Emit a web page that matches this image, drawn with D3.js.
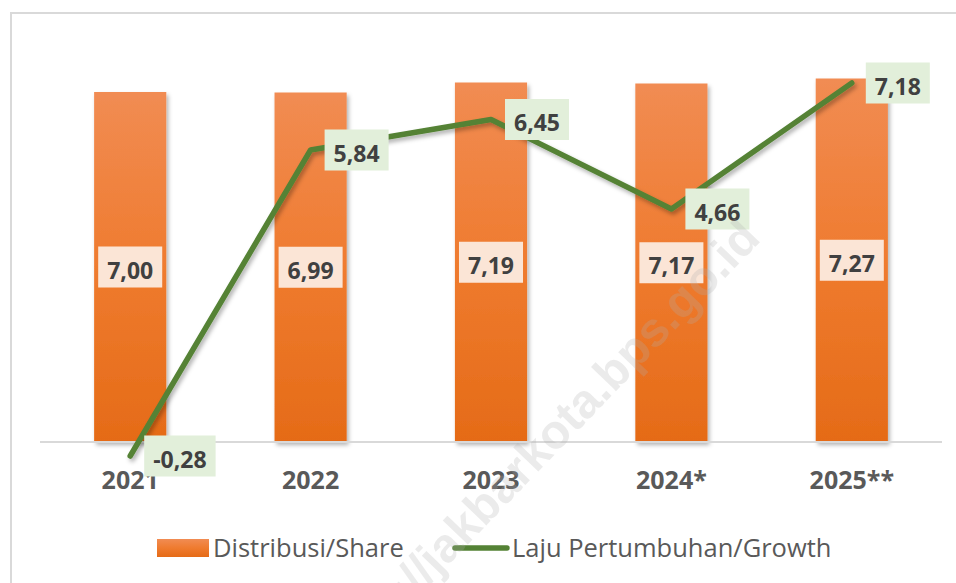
<!DOCTYPE html>
<html>
<head>
<meta charset="utf-8">
<script src="https://cdn.jsdelivr.net/npm/d3@7"></script>
<style>
  html, body { margin: 0; padding: 0; background: #fff; }
  svg { display: block; font-family: "Open Sans", "Noto Sans", sans-serif; }
</style>
</head>
<body>
<svg id="chart" width="956" height="583"></svg>
<script>
// values
const years = ["2021", "2022", "2023", "2024*", "2025**"];
const share = [7.00, 6.99, 7.19, 7.17, 7.27];
const growth = [-0.28, 5.84, 6.45, 4.66, 7.18];
const legendLabels = ["Distribusi/Share", "Laju Pertumbuhan/Growth"];
const watermark = "http://jakbarkota.bps.go.id";

const fmt = v => v.toFixed(2).replace(".", ",");

const svg = d3.select("#chart");
const defs = svg.append("defs");

// orange bar gradient
const grad = defs.append("linearGradient")
  .attr("id", "barGrad")
  .attr("x1", 0).attr("y1", 0).attr("x2", 0).attr("y2", 1);
grad.append("stop").attr("offset", "0%").attr("stop-color", "#f18c53");
grad.append("stop").attr("offset", "50%").attr("stop-color", "#ef7b2f");
grad.append("stop").attr("offset", "100%").attr("stop-color", "#e56b17");

const shadow = defs.append("filter")
  .attr("id", "shadow")
  .attr("x", "-20%").attr("y", "-20%")
  .attr("width", "140%").attr("height", "140%");
shadow.append("feDropShadow")
  .attr("dx", 2).attr("dy", 3)
  .attr("stdDeviation", 2)
  .attr("flood-color", "#000")
  .attr("flood-opacity", 0.3);

// chart frame (only top and left edges are in view)
svg.append("path")
  .attr("d", "M11,960 L11,13 L960,13")
  .attr("fill", "none")
  .attr("stroke", "#d9d9d9")
  .attr("stroke-width", 2);

const x = d3.scaleBand()
  .domain(years)
  .range([40, 942])
  .paddingInner(0.6)
  .paddingOuter(0.3);

const xc = d => x(d) + x.bandwidth() / 2;

const y = d3.scaleLinear()
  .domain([0, 8])
  .range([442, 42]);

// bars
svg.append("g")
  .selectAll("rect")
  .data(years)
  .join("rect")
  .attr("x", d => x(d))
  .attr("y", (d, i) => y(share[i]))
  .attr("width", x.bandwidth())
  .attr("height", (d, i) => y(0) - y(share[i]))
  .attr("fill", "url(#barGrad)")
  .attr("filter", "url(#shadow)");

// category axis
const xAxis = svg.append("g")
  .attr("transform", `translate(0,${y(0)})`)
  .call(d3.axisBottom(x).tickSize(0).tickPadding(29));
xAxis.select(".domain")
  .attr("d", "M40,0H942")
  .attr("stroke", "#d9d9d9")
  .attr("stroke-width", 2);
xAxis.selectAll(".tick text")
  .attr("font-family", "Open Sans")
  .attr("font-size", 25)
  .attr("font-weight", 700)
  .attr("fill", "#595959");

// bar labels (centered in bars)
const barLab = svg.append("g")
  .selectAll("g")
  .data(years)
  .join("g")
  .attr("transform", (d, i) => `translate(${xc(d)},${(y(0) + y(share[i])) / 2})`);
barLab.append("rect").attr("fill", "#fbe5d6");
barLab.append("text")
  .attr("text-anchor", "middle")
  .attr("y", 11.5)
  .attr("font-size", 23)
  .attr("font-weight", 700)
  .attr("fill", "#404040")
  .text((d, i) => fmt(share[i]));
barLab.each(function () {
  const g = d3.select(this);
  const w = g.select("text").node().getComputedTextLength() + 18;
  g.select("rect").attr("x", -w / 2).attr("y", -20.5).attr("width", w).attr("height", 41);
});

// growth line
const line = d3.line()
  .x((d, i) => xc(years[i]))
  .y(d => y(d));

svg.append("path")
  .datum(growth)
  .attr("d", line)
  .attr("fill", "none")
  .attr("stroke", "#548235")
  .attr("stroke-width", 5.5)
  .attr("stroke-linejoin", "round")
  .attr("stroke-linecap", "round")
  .attr("filter", "url(#shadow)");

// growth labels (right of points)
const lineLab = svg.append("g")
  .selectAll("g")
  .data(growth)
  .join("g")
  .attr("transform", (d, i) => `translate(${xc(years[i]) + 14},${y(d)})`);
lineLab.append("rect").attr("fill", "#e2efda");
lineLab.append("text")
  .attr("text-anchor", "middle")
  .attr("y", 11.5)
  .attr("font-size", 23)
  .attr("font-weight", 700)
  .attr("fill", "#404040")
  .text(d => fmt(d));
lineLab.each(function () {
  const g = d3.select(this);
  const w = g.select("text").node().getComputedTextLength() + 18;
  g.select("rect").attr("x", 0).attr("y", -20.5).attr("width", w).attr("height", 41);
  g.select("text").attr("x", w / 2);
});

// legend
const legend = svg.append("g").attr("font-size", 25.5).attr("fill", "#595959");
legend.append("rect")
  .attr("x", 157).attr("y", 539)
  .attr("width", 52).attr("height", 18)
  .attr("fill", "url(#barGrad)");
legend.append("text").attr("x", 213).attr("y", 557).text(legendLabels[0]);
legend.append("line")
  .attr("x1", 455).attr("x2", 507)
  .attr("y1", 548).attr("y2", 548)
  .attr("stroke", "#548235")
  .attr("stroke-width", 5.5)
  .attr("stroke-linecap", "round");
legend.append("text").attr("x", 512).attr("y", 557).text(legendLabels[1]);

// faint diagonal watermark
svg.append("text")
  .attr("transform", "translate(762,240) rotate(-46)")
  .attr("text-anchor", "end")
  .attr("font-family", "Liberation Sans")
  .attr("font-size", 48)
  .attr("font-weight", 700)
  .attr("fill", "#b0b0b0")
  .attr("fill-opacity", 0.25)
  .text(watermark);
</script>
</body>
</html>
